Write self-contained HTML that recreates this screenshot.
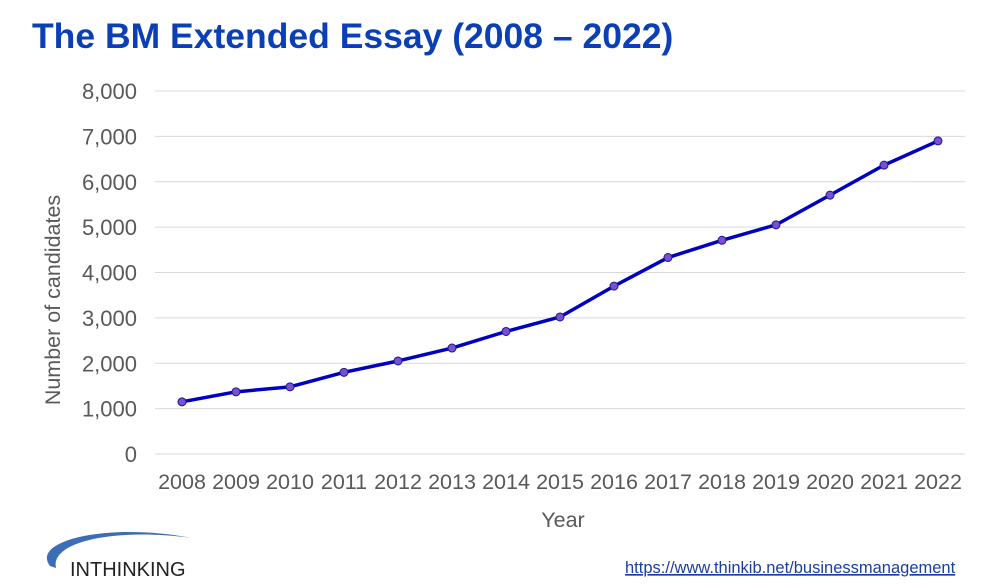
<!DOCTYPE html>
<html><head><meta charset="utf-8"><style>
body{margin:0;width:997px;height:583px;background:#fff;overflow:hidden;font-family:"Liberation Sans",sans-serif;}
</style></head><body>
<svg width="997" height="583" xmlns="http://www.w3.org/2000/svg">
<text x="32" y="48" font-size="35.5" font-weight="bold" fill="#0a3fb5">The BM Extended Essay (2008 – 2022)</text>
<g id="grid"></g><g id="yt"></g><g id="xt"></g><g id="series"></g>
<text transform="translate(60,300) rotate(-90)" text-anchor="middle" font-size="21.5" fill="#595959">Number of candidates</text>
<text x="563" y="527" text-anchor="middle" font-size="21.5" fill="#595959">Year</text>
<g>
<path d="M50 566 C 30 540, 110 522, 192 538 C 120 528, 50 540, 56 568 Z" fill="#3d6db5"/>
<text x="70" y="576" font-size="20" fill="#222">INTHINKING</text>
</g>
<text x="625" y="573" font-size="16.5" fill="#1a3fa0" text-decoration="underline">https://www.thinkib.net/businessmanagement</text>
</svg>
<script>
const years=["2008","2009","2010","2011","2012","2013","2014","2015","2016","2017","2018","2019","2020","2021","2022"];
const candidates=[1150,1370,1480,1800,2050,2335,2700,3020,3700,4330,4710,5050,5705,6366,6900];
const yTicks=[0,1000,2000,3000,4000,5000,6000,7000,8000];
const yTickLabels=["0","1,000","2,000","3,000","4,000","5,000","6,000","7,000","8,000"];
const NS="http://www.w3.org/2000/svg";
const y=v=>454-v/8000*363;
const x=i=>182+i*54;
function mk(t,a,p){const e=document.createElementNS(NS,t);for(const k in a)e.setAttribute(k,a[k]);document.getElementById(p).appendChild(e);return e;}
yTicks.forEach((v,i)=>{
 const l=mk('line',{x1:155,x2:965,y1:y(v),y2:y(v),stroke:'#d9d9d9','stroke-width':1},'grid');
 
 
 const t=mk('text',{x:137,y:y(v)+8,'text-anchor':'end','font-size':22,fill:'#595959'},'yt');
 t.textContent=yTickLabels[i];
 
 
});
years.forEach((yr,i)=>{
 const t=mk('text',{x:x(i),y:489,'text-anchor':'middle','font-size':21.5,fill:'#595959'},'xt');
 t.textContent=yr;
 
 
});
const pl=mk('polyline',{points:candidates.map((v,i)=>x(i)+','+y(v)).join(' '),fill:'none',stroke:'#0000c0','stroke-width':3.5,'stroke-linejoin':'round'},'series');


candidates.forEach((v,i)=>{
 const c=mk('circle',{cx:x(i),cy:y(v),r:4,fill:'#7a4fd8',stroke:'#1a1a80','stroke-width':1},'series');
 
 
});
</script>
</body></html>
